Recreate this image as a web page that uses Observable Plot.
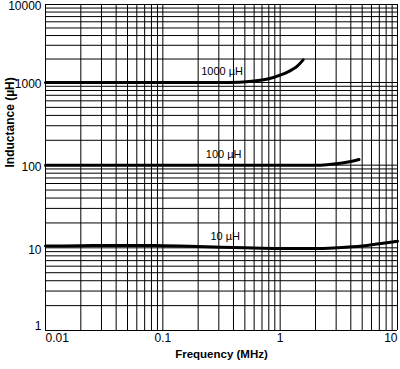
<!DOCTYPE html>
<html>
<head>
<meta charset="utf-8">
<script src="https://cdn.jsdelivr.net/npm/d3@7"></script>
<script src="https://cdn.jsdelivr.net/npm/@observablehq/plot@0.6"></script>
<style>
  html, body { margin: 0; padding: 0; background: white; }
</style>
</head>
<body>
<div id="chart"></div>
<script>
// Series (frequency in MHz, inductance in µH)
const f1000 = [0.01, 0.1, 0.3, 0.45, 0.6, 0.8, 1.0, 1.2, 1.4, 1.57];
const L1000 = [1000, 1000, 1000, 1010, 1045, 1115, 1240, 1400, 1620, 1950];
const f100 = [0.01, 0.1, 1, 2.0, 2.5, 3, 3.5, 4, 4.7];
const L100 = [100, 100, 100, 100, 101.5, 104, 107, 110.5, 117];
const f10 = [0.01, 0.02, 0.04, 0.07, 0.1, 0.2, 0.5, 1, 2, 3, 5, 7, 10];
const L10 = [10.5, 10.6, 10.7, 10.7, 10.6, 10.4, 10.0, 9.8, 9.8, 10.0, 10.5, 11.2, 12.0];

const seriesNames = ["1000 µH", "100 µH", "10 µH"];
const labelFreq = [0.32, 0.33, 0.34];
const labelValue = [1000, 100, 10];

// Tick labels
const xTicks = [0.01, 0.1, 1, 10];
const xTickLabels = ["0.01", "0.1", "1", "10"];
const yTicks = [1, 10, 100, 1000, 10000];
const yTickLabels = ["1", "10", "100", "1000", "10000"];

// Grid: 1..9 per decade
const multipliers = [1, 2, 3, 4, 5, 6, 7, 8, 9];
const xDecades = [0.01, 0.1, 1];
const yDecades = [1, 10, 100, 1000];
const xGrid = xDecades.flatMap(d => multipliers.map(m => +(d * m).toPrecision(3))).concat([10]);
const yGrid = yDecades.flatMap(d => multipliers.map(m => d * m)).concat([10000]);

const series = [
  f1000.map((f, i) => ({f, L: L1000[i], s: seriesNames[0]})),
  f100.map((f, i) => ({f, L: L100[i], s: seriesNames[1]})),
  f10.map((f, i) => ({f, L: L10[i], s: seriesNames[2]}))
].flat();

const labels = seriesNames.map((s, i) => ({s, f: labelFreq[i], L: labelValue[i]}));

const chart = Plot.plot({
  width: 400,
  height: 369,
  marginLeft: 45,
  marginRight: 3,
  marginTop: 4,
  marginBottom: 39,
  style: {fontFamily: "'Liberation Sans', Arial, sans-serif", fontSize: "12px", background: "white", color: "black"},
  x: {type: "log", domain: [0.01, 10], range: [45, 397], axis: null},
  y: {type: "log", domain: [1, 1000, 10000], range: [330, 82, 4], axis: null},
  marks: [
    Plot.ruleX(xGrid, {x: d => d, stroke: "black", strokeWidth: 1}),
    Plot.ruleY(yGrid, {y: d => d, stroke: "black", strokeWidth: 1}),
    Plot.line(series, {x: "f", y: "L", z: "s", stroke: "black", strokeWidth: 3, curve: "monotone-x"}),
    Plot.text(labels, {x: "f", y: "L", text: "s", dy: -11, fontSize: 11, fill: "black"}),
    // x tick labels
    Plot.text(xTicks.slice(1, 3), {x: d => d, frameAnchor: "bottom", dy: 11, text: (d, i) => xTickLabels[i + 1], textAnchor: "middle", fill: "black"}),
    Plot.text(xTicks.slice(0, 1), {x: d => d, frameAnchor: "bottom", dy: 11, text: () => xTickLabels[0], textAnchor: "start", fill: "black"}),
    Plot.text(xTicks.slice(3), {x: d => d, frameAnchor: "bottom", dy: 11, text: () => xTickLabels[3], textAnchor: "end", fill: "black"}),
    // y tick labels
    Plot.text(yTicks.slice(1), {y: d => d, frameAnchor: "left", dx: -4, dy: 2, text: (d, i) => yTickLabels[i + 1], textAnchor: "end", fill: "black"}),
    Plot.text(yTicks.slice(0, 1), {y: d => d, frameAnchor: "left", dx: -4, dy: -4, text: () => yTickLabels[0], textAnchor: "end", fill: "black"}),
    // axis titles
    Plot.text(["Frequency (MHz)"], {frameAnchor: "bottom", dy: 27, text: d => d, fontWeight: "bold", fontSize: 11.5, fill: "black"}),
    Plot.text(["Inductance (µH)"], {frameAnchor: "left", dx: -35, rotate: -90, text: d => d, fontWeight: "bold", fontSize: 12, fill: "black"})
  ]
});
document.getElementById("chart").appendChild(chart);
</script>
</body>
</html>
